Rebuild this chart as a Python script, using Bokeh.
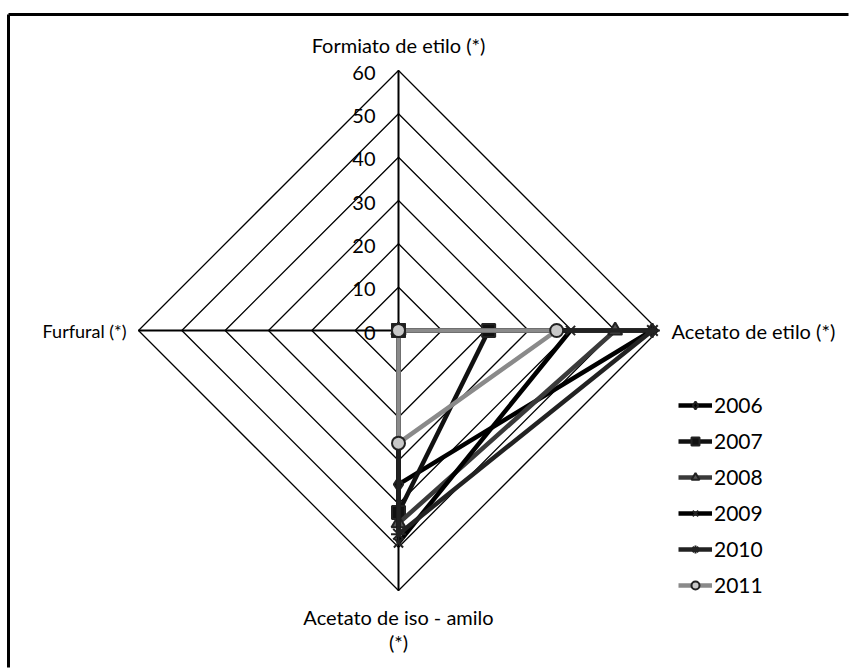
import numpy as np
from bokeh.plotting import figure
from bokeh.models import Range1d, Legend, LegendItem, ColumnDataSource
from bokeh.core.properties import value
from bokeh.embed import file_html
from bokeh.resources import INLINE

# ---- data ----
axes_labels = ["Formiato de etilo (*)", "Acetato de etilo (*)", "Acetato de iso - amilo", "Furfural (*)"]
ticks = [0, 10, 20, 30, 40, 50, 60]
years = ["2006", "2007", "2008", "2009", "2010", "2011"]
v2006 = [0, 58.5, 35.5, 0]
v2007 = [0, 20.8, 42.0, 0]
v2008 = [0, 50.0, 44.5, 0]
v2009 = [0, 39.7, 49.0, 0]
v2010 = [0, 58.6, 47.0, 0]
v2011 = [0, 36.5, 26.0, 0]
series = [v2006, v2007, v2008, v2009, v2010, v2011]

# ---- style ----
W, H = 849, 668
CX, CY = 398, 330            # centre in pixels
RMAX = 60
K = 260 / RMAX               # px per unit
FONT = "Lato"

angles = np.deg2rad([90, 0, -90, 180])

p = figure(width=W, height=H, output_backend="svg", toolbar_location=None,
           x_range=Range1d(-CX / K, (W - CX) / K),
           y_range=Range1d(-(H - CY) / K, CY / K),
           min_border=0, outline_line_color=None)
p.axis.visible = False
p.grid.visible = False
p.background_fill_color = "white"
p.border_fill_color = "white"


def px(x, y):
    return (x - CX) / K, (CY - y) / K


# outer frame of the scanned page (decoration): left and top edges only
lx0, ly0 = px(8, H - 1)
lx1, ly1 = px(8, 14)
tx1, ty1 = px(W - 1, 14)
p.segment(x0=[lx0, lx1], y0=[ly0, ly1], x1=[lx1, tx1], y1=[ly1, ty1],
          line_color="black", line_width=3)

# grid diamonds
for t in ticks[1:]:
    gx = list(t * np.cos(angles)) + [t * np.cos(angles[0])]
    gy = list(t * np.sin(angles)) + [t * np.sin(angles[0])]
    p.line(gx, gy, line_color="black", line_width=1.3)

# spokes
for a in angles:
    p.line([0, RMAX * np.cos(a)], [0, RMAX * np.sin(a)], line_color="black", line_width=2)

# tick labels
p.text(x=[0] * len(ticks), y=ticks, text=[str(t) for t in ticks],
       x_offset=-23, y_offset=2, text_align="right", text_baseline="middle",
       text_font=value(FONT), text_font_size="20px", text_color="black")

# axis labels
p.text(x=[0], y=[RMAX], text=[axes_labels[0]], y_offset=-26, text_align="center",
       text_baseline="middle", text_font=value(FONT), text_font_size="20px", text_color="black")
p.text(x=[RMAX], y=[0], text=[axes_labels[1]], x_offset=13, text_align="left",
       text_baseline="middle", text_font=value(FONT), text_font_size="20px", text_color="black")
p.text(x=[0, 0], y=[-RMAX, -RMAX], text=[axes_labels[2], "(*)"], y_offset=[26, 51],
       text_align="center", text_baseline="middle", text_font=value(FONT),
       text_font_size="20px", text_color="black")
p.text(x=[-RMAX], y=[0], text=[axes_labels[3]], x_offset=-12, text_align="right",
       text_baseline="middle", text_font=value(FONT), text_font_size="18px", text_color="black")

line_colors = ["#000000", "#111111", "#3a3a3a", "#000000", "#222222", "#8a8a8a"]
markers = ["diamond", "square", "triangle", "x", "asterisk", "circle"]
fills = ["#000000", "#111111", "#555555", "#000000", "#000000", "#c8c8c8"]
sizes = [14, 13, 14, 13, 15, 13]

items = []
for yr, vals, lc, mk, fc, sz in zip(years, series, line_colors, markers, fills, sizes):
    v = np.array(vals)
    xs = list(v * np.cos(angles)) + [v[0] * np.cos(angles[0])]
    ys = list(v * np.sin(angles)) + [v[0] * np.sin(angles[0])]
    src = ColumnDataSource(dict(x=xs, y=ys))
    lr = p.line("x", "y", source=src, line_color=lc, line_width=4.5)
    sr = p.scatter("x", "y", source=src, marker=mk, size=sz, fill_color=fc,
                   line_color="#222222", line_width=2)
    items.append(LegendItem(label=yr, renderers=[lr, sr]))

legend = Legend(items=items, location=(678, 71), orientation="vertical",
                glyph_width=34, glyph_height=20, label_height=20, spacing=11,
                label_standoff=2, padding=0, margin=0,
                border_line_color=None, background_fill_alpha=0,
                label_text_font=FONT, label_text_font_size="21px",
                label_text_color="black")
p.add_layout(legend)

open("out.html", "w").write(file_html(p, INLINE))
